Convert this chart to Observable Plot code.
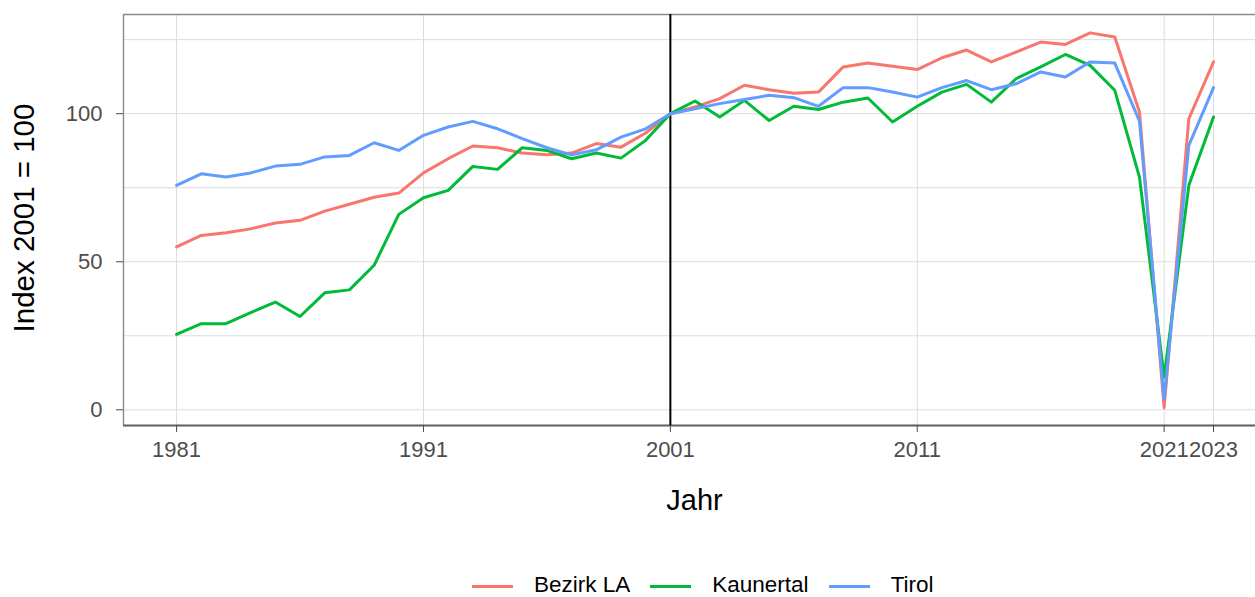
<!DOCTYPE html>
<html>
<head>
<meta charset="utf-8">
<script src="https://cdn.jsdelivr.net/npm/d3@7"></script>
<script src="https://cdn.jsdelivr.net/npm/@observablehq/plot@0.6"></script>
<style>
  html, body { margin: 0; padding: 0; background: #fff; overflow: hidden; }
  #wrap { position: relative; width: 1255px; height: 597px; font-family: "Liberation Sans", Arial, sans-serif; }
  #legend { position: absolute; left: 472px; top: 573px; height: 24px; display: flex; align-items: center; font-size: 22.5px; color: #000; line-height: 24px; }
  .key { width: 41px; height: 3px; margin-right: 21px; position: relative; top: 1px; }
  .lab { margin-right: 20px; }
</style>
</head>
<body>
<div id="wrap"><div id="chart"></div><div id="legend"></div></div>
<script>
const years = [1981,1982,1983,1984,1985,1986,1987,1988,1989,1990,
               1991,1992,1993,1994,1995,1996,1997,1998,1999,2000,
               2001,2002,2003,2004,2005,2006,2007,2008,2009,2010,
               2011,2012,2013,2014,2015,2016,2017,2018,2019,2020,
               2021,2022,2023];
const bezirkLA = [55.0,58.9,59.8,61.1,63.1,64.0,67.1,69.4,71.8,73.2,
                  80.0,84.8,89.1,88.5,86.7,86.1,86.7,89.9,88.7,93.5,
                  100,102.3,105.1,109.6,108.1,106.9,107.3,115.8,117.1,116.0,
                  114.9,118.9,121.5,117.5,120.8,124.2,123.4,127.3,125.9,100.6,
                  0.7,98.3,117.5];
const kaunertal = [25.5,29.1,29.1,32.8,36.4,31.5,39.5,40.5,48.8,66.0,
                   71.6,74.1,82.2,81.2,88.5,87.6,84.8,86.7,85.0,91.0,
                   100,104.3,98.9,104.5,97.7,102.5,101.4,103.9,105.3,97.2,
                   102.5,107.3,109.9,103.9,111.8,115.8,120.0,116.3,107.9,78.6,
                   11.0,75.8,98.9];
const tirol = [75.8,79.7,78.6,80.0,82.3,82.9,85.4,85.9,90.2,87.6,
               92.7,95.5,97.4,94.9,91.6,88.5,86.1,87.8,92.1,94.9,
               100,101.7,103.4,104.8,106.2,105.4,102.5,108.8,108.8,107.3,
               105.6,108.8,111.2,108.1,110.1,114.1,112.4,117.5,117.1,97.5,
               3.5,89.3,108.8];
const seriesNames = ["Bezirk LA", "Kaunertal", "Tirol"];
const seriesColors = ["#F8766D", "#00BA38", "#619CFF"];
const xTicks = [1981, 1991, 2001, 2011, 2021, 2023];
const yTicks = [0, 50, 100];
const yGrid = [0, 25, 50, 75, 100, 125];
const refYear = 2001;

const seriesValues = [bezirkLA, kaunertal, tirol];
const data = [];
seriesNames.forEach((name, si) => {
  years.forEach((yr, i) => data.push({jahr: yr, index: seriesValues[si][i], region: name}));
});

const xDomain = [1978.85, 2024.7];
const yDomain = [-5.3, 133.5];

const chart = Plot.plot({
  width: 1255,
  height: 560,
  marginLeft: 123,
  marginRight: 0,
  marginTop: 14,
  marginBottom: 135,
  style: {fontFamily: "Liberation Sans, Arial, sans-serif", background: "#fff"},
  x: {domain: xDomain},
  y: {domain: yDomain},
  color: {domain: seriesNames, range: seriesColors},
  marks: [
    Plot.ruleY(yGrid, {stroke: "#dcdcdc", strokeWidth: 1}),
    Plot.ruleX(xTicks, {stroke: "#dcdcdc", strokeWidth: 1}),
    Plot.ruleY([yDomain[1]], {stroke: "#8a8a8a", strokeWidth: 1.4}),
    Plot.ruleX([xDomain[0]], {stroke: "#8a8a8a", strokeWidth: 1.4}),
    Plot.ruleY([yDomain[0]], {stroke: "#5e5e5e", strokeWidth: 2}),
    Plot.ruleX([refYear], {stroke: "#000", strokeWidth: 2}),
    Plot.line(data, {x: "jahr", y: "index", z: "region", stroke: "region", strokeWidth: 3, strokeLinejoin: "round"}),
    Plot.axisX({ticks: xTicks, tickFormat: d => String(d), tickSize: 7, tickPadding: 9, fontSize: 22, color: "#4d4d4d", stroke: "#4d4d4d", label: null}),
    Plot.axisY({ticks: yTicks, tickSize: 7, tickPadding: 14, fontSize: 22, color: "#4d4d4d", stroke: "#4d4d4d", label: null}),
    Plot.text(["Jahr"], {frameAnchor: "bottom", dx: 5, dy: 75, fontSize: 29, fill: "#000", textAnchor: "middle", lineAnchor: "middle"}),
    Plot.text(["Index 2001 = 100"], {frameAnchor: "left", dx: -99, dy: -2, rotate: -90, fontSize: 29.5, fill: "#000", textAnchor: "middle", lineAnchor: "middle"})
  ]
});
document.getElementById("chart").appendChild(chart);

const legend = document.getElementById("legend");
seriesNames.forEach((name, i) => {
  const k = document.createElement("span");
  k.className = "key";
  k.style.background = seriesColors[i];
  const l = document.createElement("span");
  l.className = "lab";
  l.textContent = name;
  legend.appendChild(k);
  legend.appendChild(l);
});
</script>
</body>
</html>
